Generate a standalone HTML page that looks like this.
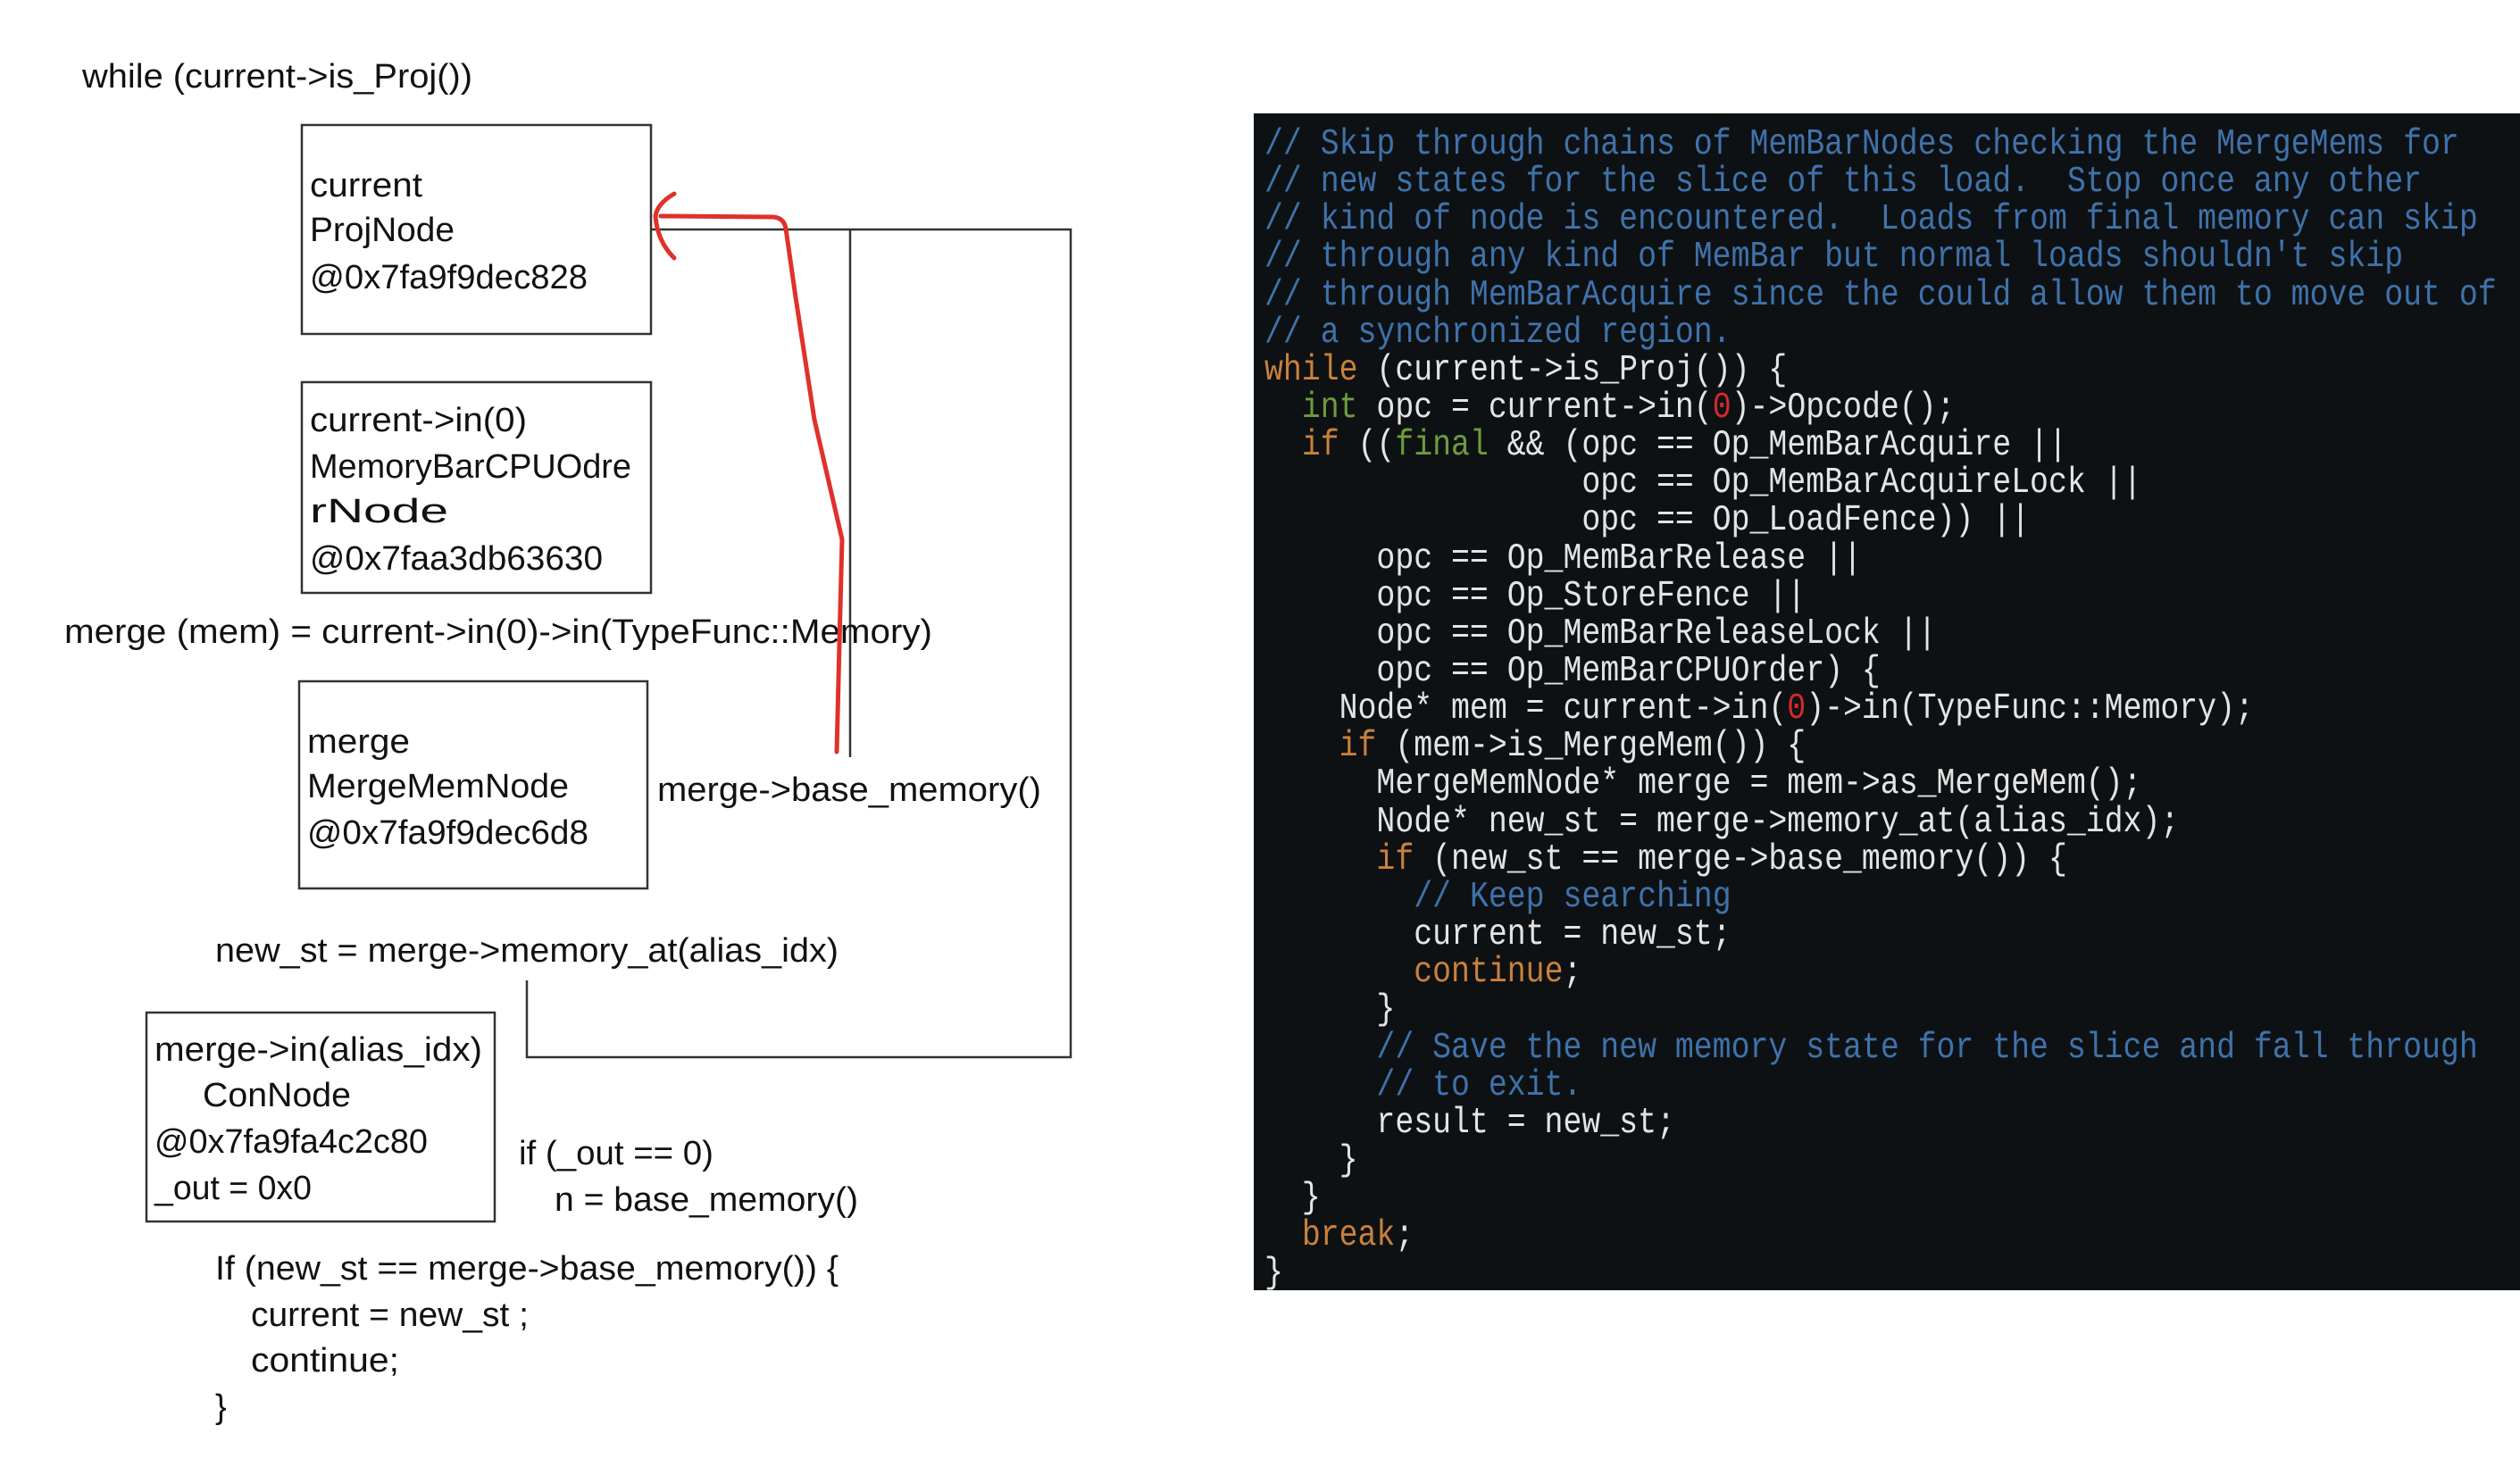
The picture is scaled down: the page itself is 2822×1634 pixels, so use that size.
<!DOCTYPE html>
<html><head><meta charset="utf-8"><style>
html,body{margin:0;padding:0;background:#fff;width:2822px;height:1634px;overflow:hidden}
svg{display:block}
.l{font-family:"Liberation Sans","Noto Sans CJK SC",sans-serif;font-size:38px;fill:#111}
.c{font-family:"Liberation Mono","DejaVu Sans Mono",monospace;font-size:41px;fill:#e4e4e4;white-space:pre}
.cm{fill:#3f72ab}.kw{fill:#c9813c}.gr{fill:#6d9c3c}.rd{fill:#d42a2a}
</style></head><body>
<svg width="2822" height="1634" viewBox="0 0 2822 1634" xmlns="http://www.w3.org/2000/svg">
<rect width="2822" height="1634" fill="#fff"/>
<text class="l" x="92" y="98" textLength="437" lengthAdjust="spacingAndGlyphs">while (current-&gt;is_Proj())</text>
<g fill="none" stroke="#333" stroke-width="2.5">
<rect x="338" y="140" width="391" height="234"/>
<rect x="338" y="428" width="391" height="236"/>
<rect x="335" y="763" width="390" height="232"/>
<rect x="164" y="1134" width="390" height="234"/>
<polyline points="729,257 1199,257 1199,1184 590,1184 590,1098"/>
<line x1="952" y1="257" x2="952" y2="848"/>
</g>
<text class="l" x="347" y="220" textLength="126" lengthAdjust="spacingAndGlyphs">current</text>
<text class="l" x="347" y="270" textLength="162" lengthAdjust="spacingAndGlyphs">ProjNode</text>
<text class="l" x="347" y="323" textLength="311" lengthAdjust="spacingAndGlyphs">@0x7fa9f9dec828</text>
<text class="l" x="347" y="483" textLength="243" lengthAdjust="spacingAndGlyphs">current-&gt;in(0)</text>
<text class="l" x="347" y="535" textLength="360" lengthAdjust="spacingAndGlyphs">MemoryBarCPUOdre</text>
<text class="l" x="347" y="585" textLength="155" lengthAdjust="spacingAndGlyphs">rNode</text>
<text class="l" x="347" y="638" textLength="328" lengthAdjust="spacingAndGlyphs">@0x7faa3db63630</text>
<text class="l" x="72" y="720" textLength="972" lengthAdjust="spacingAndGlyphs">merge (mem)  = current-&gt;in(0)-&gt;in(TypeFunc::Memory)</text>
<text class="l" x="344" y="843" textLength="115" lengthAdjust="spacingAndGlyphs">merge</text>
<text class="l" x="344" y="893" textLength="293" lengthAdjust="spacingAndGlyphs">MergeMemNode</text>
<text class="l" x="344" y="945" textLength="315" lengthAdjust="spacingAndGlyphs">@0x7fa9f9dec6d8</text>
<text class="l" x="736" y="897" textLength="430" lengthAdjust="spacingAndGlyphs">merge-&gt;base_memory()</text>
<text class="l" x="241" y="1077" textLength="698" lengthAdjust="spacingAndGlyphs">new_st = merge-&gt;memory_at(alias_idx)</text>
<text class="l" x="173" y="1188" textLength="367" lengthAdjust="spacingAndGlyphs">merge-&gt;in(alias_idx)</text>
<text class="l" x="227" y="1239" textLength="166" lengthAdjust="spacingAndGlyphs">ConNode</text>
<text class="l" x="173" y="1291" textLength="306" lengthAdjust="spacingAndGlyphs">@0x7fa9fa4c2c80</text>
<text class="l" x="173" y="1343" textLength="176" lengthAdjust="spacingAndGlyphs">_out = 0x0</text>
<text class="l" x="581" y="1304" textLength="218" lengthAdjust="spacingAndGlyphs">if (_out == 0)</text>
<text class="l" x="621" y="1356" textLength="340" lengthAdjust="spacingAndGlyphs">n = base_memory()</text>
<text class="l" x="241" y="1433" textLength="698" lengthAdjust="spacingAndGlyphs">If (new_st == merge-&gt;base_memory()) {</text>
<text class="l" x="281" y="1485" textLength="311" lengthAdjust="spacingAndGlyphs">current = new_st ;</text>
<text class="l" x="281" y="1536" textLength="166" lengthAdjust="spacingAndGlyphs">continue;</text>
<text class="l" x="241" y="1588">}</text>
<g fill="none" stroke="#e0312a" stroke-width="5" stroke-linecap="round" stroke-linejoin="round">
<path d="M937,842 L940,720 L943,604 L912,470 L891,333 L880,256 Q878,244 866,243 L740,242"/>
<path d="M755,217 Q736,228 734,242 Q736,270 755,289"/>
</g>
<rect x="1404" y="127" width="1418" height="1318" fill="#0e1113"/>
<g transform="translate(1416,0) scale(0.85,1)">
<g class="c">
<text xml:space="preserve" y="172" class="cm">// Skip through chains of MemBarNodes checking the MergeMems for</text>
<text xml:space="preserve" y="214" class="cm">// new states for the slice of this load.  Stop once any other</text>
<text xml:space="preserve" y="256" class="cm">// kind of node is encountered.  Loads from final memory can skip</text>
<text xml:space="preserve" y="298" class="cm">// through any kind of MemBar but normal loads shouldn't skip</text>
<text xml:space="preserve" y="341" class="cm">// through MemBarAcquire since the could allow them to move out of</text>
<text xml:space="preserve" y="383" class="cm">// a synchronized region.</text>
<text xml:space="preserve" y="425"><tspan class="kw">while</tspan> (current-&gt;is_Proj()) {</text>
<text xml:space="preserve" y="467">  <tspan class="gr">int</tspan> opc = current-&gt;in(<tspan class="rd">0</tspan>)-&gt;Opcode();</text>
<text xml:space="preserve" y="509">  <tspan class="kw">if</tspan> ((<tspan class="gr">final</tspan> &amp;&amp; (opc == Op_MemBarAcquire ||</text>
<text xml:space="preserve" y="551">                 opc == Op_MemBarAcquireLock ||</text>
<text xml:space="preserve" y="593">                 opc == Op_LoadFence)) ||</text>
<text xml:space="preserve" y="636">      opc == Op_MemBarRelease ||</text>
<text xml:space="preserve" y="678">      opc == Op_StoreFence ||</text>
<text xml:space="preserve" y="720">      opc == Op_MemBarReleaseLock ||</text>
<text xml:space="preserve" y="762">      opc == Op_MemBarCPUOrder) {</text>
<text xml:space="preserve" y="804">    Node* mem = current-&gt;in(<tspan class="rd">0</tspan>)-&gt;in(TypeFunc::Memory);</text>
<text xml:space="preserve" y="846">    <tspan class="kw">if</tspan> (mem-&gt;is_MergeMem()) {</text>
<text xml:space="preserve" y="888">      MergeMemNode* merge = mem-&gt;as_MergeMem();</text>
<text xml:space="preserve" y="931">      Node* new_st = merge-&gt;memory_at(alias_idx);</text>
<text xml:space="preserve" y="973">      <tspan class="kw">if</tspan> (new_st == merge-&gt;base_memory()) {</text>
<text xml:space="preserve" y="1015">        <tspan class="cm">// Keep searching</tspan></text>
<text xml:space="preserve" y="1057">        current = new_st;</text>
<text xml:space="preserve" y="1099">        <tspan class="kw">continue</tspan>;</text>
<text xml:space="preserve" y="1141">      }</text>
<text xml:space="preserve" y="1184">      <tspan class="cm">// Save the new memory state for the slice and fall through</tspan></text>
<text xml:space="preserve" y="1226">      <tspan class="cm">// to exit.</tspan></text>
<text xml:space="preserve" y="1268">      result = new_st;</text>
<text xml:space="preserve" y="1310">    }</text>
<text xml:space="preserve" y="1352">  }</text>
<text xml:space="preserve" y="1394">  <tspan class="kw">break</tspan>;</text>
<text xml:space="preserve" y="1436">}</text>
</g></g>
</svg>
</body></html>
